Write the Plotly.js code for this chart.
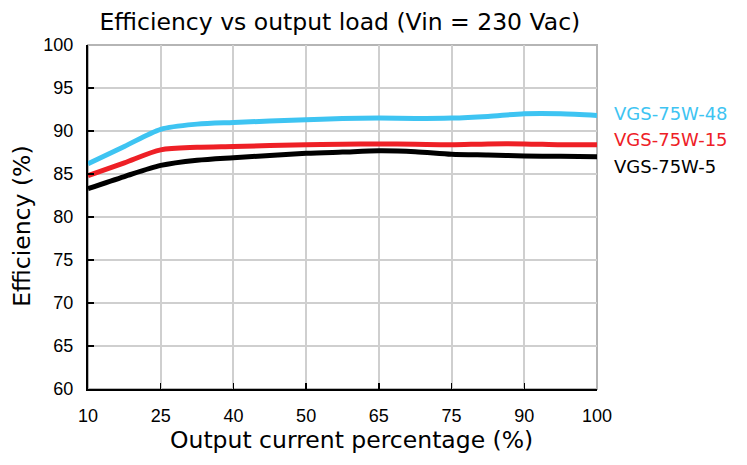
<!DOCTYPE html>
<html><head><meta charset="utf-8">
<script src="https://cdn.plot.ly/plotly-3.0.1.min.js"></script>
<style>html,body{margin:0;padding:0;background:#fff;}#chart{width:747px;height:465px;}</style>
</head><body><div id="chart"></div>
<script>
// x positions on the evenly spaced grid (0 = 10%, 1 = 25%, ... 7 = 100%)
const tickPos = [0, 1, 2, 3, 4, 5, 6, 7];
const tickLabels = ["10", "25", "40", "50", "65", "75", "90", "100"];

const xPos = [0, 0.5, 1, 1.5, 2, 3, 3.5, 4, 4.5, 5, 5.5, 6, 6.5, 7];
const eff48 = [86.2, 88.2, 90.2, 90.8, 91.0, 91.3, 91.45, 91.5, 91.45, 91.5, 91.7, 92.0, 92.0, 91.8];
const eff15 = [84.8, 86.3, 87.8, 88.1, 88.2, 88.4, 88.45, 88.5, 88.45, 88.4, 88.5, 88.5, 88.4, 88.4];
const eff5  = [83.3, 84.7, 86.0, 86.6, 86.9, 87.4, 87.55, 87.7, 87.6, 87.3, 87.2, 87.1, 87.05, 87.0];

const names = ["VGS-75W-48", "VGS-75W-15", "VGS-75W-5"];
const colors = ["#3ec4f2", "#ee2026", "#000000"];
const series = [eff48, eff15, eff5];
const labelY = [92.0, 89.0, 85.9];

const titleText = "Efficiency vs output load (Vin = 230 Vac)";
const xTitle = "Output current percentage (%)";
const yTitle = "Efficiency (%)";

const traces = series.map((s, i) => ({
  x: xPos, y: s, type: "scatter", mode: "lines", name: names[i],
  line: {color: colors[i], width: 5, shape: "spline", smoothing: 0.8},
  hoverinfo: "skip"
}));

const titleFont = {size: 23.5, family: "DejaVu Sans, Verdana, sans-serif", color: "#000"};
const tickFont = {family: "Liberation Sans, Arial, sans-serif", size: 18, color: "#000"};

const seriesLabels = names.map((n, i) => ({
  text: n, xref: "paper", yref: "y", x: 1.03, y: labelY[i], xanchor: "left", yanchor: "middle",
  showarrow: false, font: {size: 18, family: "DejaVu Sans, Verdana, sans-serif", color: colors[i]}
}));

const layout = {
  width: 747, height: 465,
  margin: {l: 88, r: 150, t: 45, b: 76},
  paper_bgcolor: "#fff", plot_bgcolor: "#fff",
  showlegend: false,
  font: {family: "DejaVu Sans, sans-serif", color: "#000"},
  title: {text: titleText, x: 0.455, xanchor: "center", y: 0.953, yanchor: "middle", font: titleFont},
  xaxis: {
    range: [0, 7], tickvals: tickPos, ticktext: tickLabels,
    showgrid: true, gridcolor: "#cfcfcf", gridwidth: 2,
    showline: true, linecolor: "#000", linewidth: 2,
    ticks: "inside", ticklen: 6, tickwidth: 1.5, tickcolor: "#000",
    ticklabelstandoff: 9,
    zeroline: false,
    tickfont: tickFont
  },
  yaxis: {
    range: [60, 100], dtick: 5, tick0: 60,
    showgrid: true, gridcolor: "#cfcfcf", gridwidth: 2,
    showline: true, linecolor: "#000", linewidth: 2,
    ticks: "inside", ticklen: 6, tickwidth: 1.5, tickcolor: "#000",
    ticklabelstandoff: 9,
    zeroline: false,
    tickfont: tickFont
  },
  shapes: [{type: "rect", xref: "paper", yref: "paper", x0: 0, x1: 1, y0: 0, y1: 1,
            line: {color: "#b5b5b5", width: 2}, layer: "below"}],
  annotations: seriesLabels.concat([
    {text: xTitle, xref: "paper", yref: "paper", x: 0.517, y: -0.148, xanchor: "center", yanchor: "middle",
     showarrow: false, font: titleFont},
    {text: yTitle, xref: "paper", yref: "paper", x: -0.13, y: 0.474, xanchor: "center", yanchor: "middle",
     textangle: -90, showarrow: false, font: titleFont}
  ])
};

Plotly.newPlot("chart", traces, layout, {staticPlot: true, displayModeBar: false});
</script></body></html>
